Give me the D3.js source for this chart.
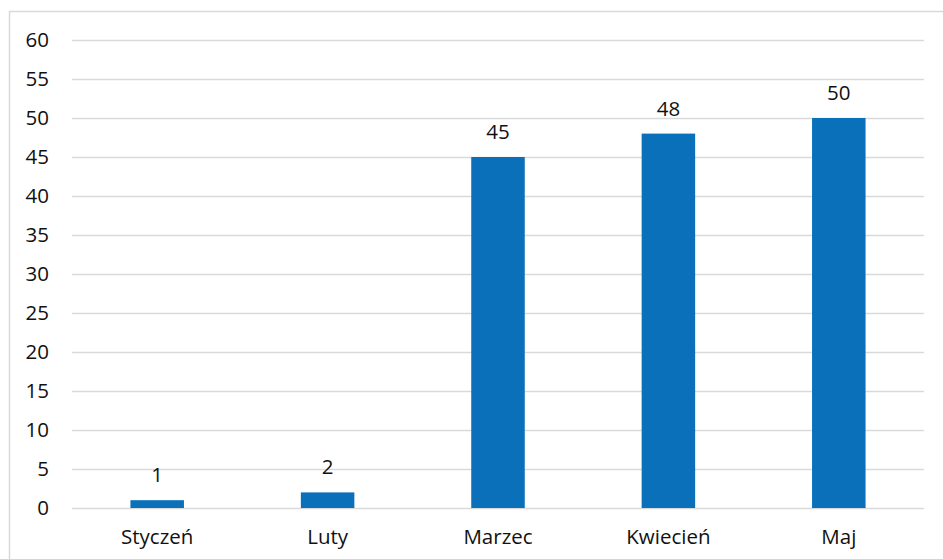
<!DOCTYPE html>
<html>
<head>
<meta charset="utf-8">
<script src="https://cdn.jsdelivr.net/npm/d3@7"></script>
<style>
  body { margin: 0; background: #fff; }
  #chart { width: 943px; height: 559px; }
  text { font-family: "Open Sans", "Noto Sans", sans-serif; fill: #111; }
</style>
</head>
<body>
<div id="chart"></div>
<script>
// data
var months = ["Styczeń", "Luty", "Marzec", "Kwiecień", "Maj"];
var values = [1, 2, 45, 48, 50];
var yTicks = [0, 5, 10, 15, 20, 25, 30, 35, 40, 45, 50, 55, 60];

var width = 943,
    height = 559,
    fontSize = "20.5px";

var svg = d3.select("#chart")
    .append("svg")
    .attr("width", width)
    .attr("height", height);

// outer chart frame (runs off the right/bottom edge)
svg.append("rect")
    .attr("x", 9.5)
    .attr("y", 11.5)
    .attr("width", 1000)
    .attr("height", 600)
    .attr("fill", "none")
    .attr("stroke", "#d9d9d9")
    .attr("stroke-width", 1.5);

var x = d3.scaleBand()
    .domain(months)
    .range([72, 924])
    .paddingInner(0.686)
    .paddingOuter(0.343);

var y = d3.scaleLinear()
    .domain([0, 60])
    .range([508, 40]);

/* GRIDLINES */
svg.append("g")
    .selectAll("line")
    .data(yTicks)
    .enter()
    .append("line")
        .attr("x1", 72)
        .attr("x2", 924)
        .attr("y1", d => Math.round(y(d)) + 0.5)
        .attr("y2", d => Math.round(y(d)) + 0.5)
        .attr("stroke", "#d9d9d9")
        .attr("stroke-width", 1.3);

/* Y AXIS LABELS */
var yAxis = d3.axisLeft(y)
    .tickValues(yTicks)
    .tickSize(0)
    .tickPadding(0);

svg.append("g")
    .attr("transform", "translate(49,0)")
    .call(yAxis)
    .call(g => g.select(".domain").remove())
    .selectAll("text")
        .attr("font-size", fontSize)
        .attr("font-family", null)
        .attr("fill", "#111");

/* X AXIS LABELS */
var xAxis = d3.axisBottom(x)
    .tickSize(0)
    .tickPadding(0);

svg.append("g")
    .attr("transform", "translate(0,529)")
    .call(xAxis)
    .call(g => g.select(".domain").remove())
    .selectAll("text")
        .attr("font-size", fontSize)
        .attr("font-family", null)
        .attr("fill", "#111");

/* BARS */
var data = months.map((m, i) => ({ month: m, value: values[i] }));

svg.append("g")
    .selectAll("rect")
    .data(data)
    .enter()
    .append("rect")
        .attr("x", d => x(d.month))
        .attr("y", d => y(d.value))
        .attr("width", x.bandwidth())
        .attr("height", d => y(0) - y(d.value))
        .attr("fill", "#0a70ba");

/* VALUE LABELS */
svg.append("g")
    .selectAll("text")
    .data(data)
    .enter()
    .append("text")
        .attr("x", d => x(d.month) + x.bandwidth() / 2)
        .attr("y", d => y(d.value) - 18)
        .attr("text-anchor", "middle")
        .attr("font-size", fontSize)
        .text(d => d.value);
</script>
</body>
</html>
